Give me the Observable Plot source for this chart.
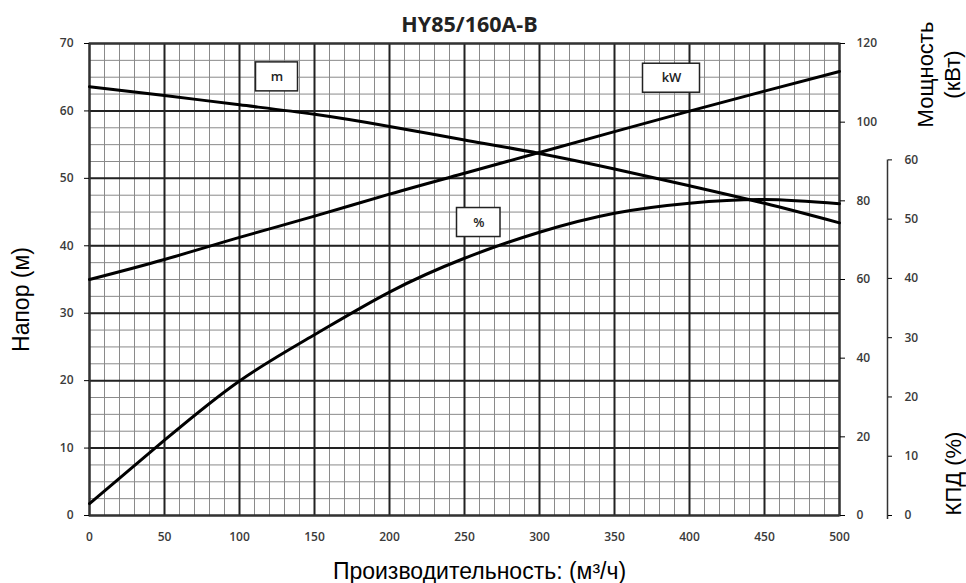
<!DOCTYPE html>
<html><head><meta charset="utf-8">
<script src="https://cdn.jsdelivr.net/npm/d3@7"></script>
<script src="https://cdn.jsdelivr.net/npm/@observablehq/plot@0.6"></script>
<style>body{margin:0;background:#fff}</style>
</head><body><div id="chart"></div>
<script>
// Data
const flow  = [0, 50, 100, 150, 200, 250, 300, 350, 400, 450, 500];           // м³/ч
const head  = [63.6, 62.3, 60.9, 59.5, 57.7, 55.7, 53.7, 51.4, 48.9, 46.3, 43.4]; // м
const power = [60.0, 65.1, 70.7, 76.1, 81.7, 87.0, 92.3, 97.6, 102.8, 107.9, 112.9]; // кВт
const eff   = [2.0, 12.7, 22.7, 30.5, 37.7, 43.4, 47.8, 51.0, 52.7, 53.3, 52.6]; // %

const xTicks = [0, 50, 100, 150, 200, 250, 300, 350, 400, 450, 500];
const headTicks = [0, 10, 20, 30, 40, 50, 60, 70];
const powerTicks = [0, 20, 40, 60, 80, 100, 120];
const effTicks = [0, 10, 20, 30, 40, 50, 60];

const labels = ["m", "kW", "%"];
const labelX = [125, 388, 259.5];
const labelY = [65.05, 64.85, 43.45];
const labelHalfW = [14, 19, 14.5];

// scale conversions to the head axis
const PK = 70 / 120;        // power -> head units
const EK = 52.74 / 60;      // efficiency -> head units

const rows = flow.map((q, i) => ({q, head: head[i], power: power[i] * PK, eff: eff[i] * EK}));
const boxes = labels.map((t, i) => ({t, x: labelX[i], y: labelY[i], w: labelHalfW[i]}));

const minorX = d3.range(0, 501, 10);
const majorX = d3.range(0, 501, 50);
const minorY = d3.range(0, 70.01, 2.5);
const majorY = d3.range(0, 70.01, 10);

const tickFont = {fontSize: 12, fontWeight: 600, fill: "#3a3a3a", fontFamily: "'Open Sans', sans-serif"};
const titleFont = "'Liberation Sans', Arial, sans-serif";

const chart = Plot.plot({
  width: 966, height: 583,
  marginTop: 43, marginBottom: 68, marginLeft: 89, marginRight: 127,
  style: {background: "#fff", fontFamily: "'Open Sans', sans-serif"},
  x: {domain: [0, 500]},
  y: {domain: [0, 70]},
  marks: [
    Plot.ruleX(minorX, {stroke: "#8a8a8a", strokeWidth: 1}),
    Plot.ruleY(minorY, {stroke: "#8a8a8a", strokeWidth: 1}),
    Plot.ruleX(majorX, {stroke: "#222", strokeWidth: 2}),
    Plot.ruleY(majorY, {stroke: "#222", strokeWidth: 2}),
    Plot.frame({stroke: "#333", strokeWidth: 2}),
    Plot.axisX({ticks: xTicks, tickSize: 0, tickPadding: 17, label: null, ...tickFont}),
    Plot.axisY({ticks: headTicks, anchor: "left", tickSize: 5, tickPadding: 11, label: null, ...tickFont}),
    Plot.axisY({ticks: powerTicks.map(p => p * PK), tickFormat: d => Math.round(d / PK), anchor: "right",
      tickSize: 5, tickPadding: 12, label: null, ...tickFont}),
    Plot.ruleX([500], {y1: -0.6, y2: 60 * EK, dx: 48, stroke: "#333", strokeWidth: 1.5}),
    Plot.axisY({ticks: effTicks.map(e => e * EK), tickFormat: d => Math.round(d / EK), anchor: "right",
      dx: 48, tickSize: 4, tickPadding: 13, label: null, ...tickFont}),
    Plot.line(rows, {x: "q", y: "head", curve: "natural", stroke: "#000", strokeWidth: 3}),
    Plot.line(rows, {x: "q", y: "power", curve: "natural", stroke: "#000", strokeWidth: 3}),
    Plot.line(rows, {x: "q", y: "eff", curve: "natural", stroke: "#000", strokeWidth: 3}),
    Plot.rect(boxes, {x1: d => d.x - d.w, x2: d => d.x + d.w, y1: d => d.y - 2.15, y2: d => d.y + 2.15,
      fill: "#fff", stroke: "#222", strokeWidth: 1.5}),
    Plot.text(boxes, {x: "x", y: "y", text: "t", fontSize: 13, fontWeight: 600, fill: "#222"}),
    Plot.text(["HY85/160A-B"], {frameAnchor: "top", lineAnchor: "middle", dx: 5, dy: -18, fontSize: 21.5,
      fontWeight: "bold", fill: "#222", fontFamily: "'Open Sans', sans-serif"}),
    Plot.text(["Производительность: (м³/ч)"], {frameAnchor: "bottom", lineAnchor: "middle", dx: 15, dy: 56,
      fontSize: 23, fill: "#000", fontFamily: titleFont}),
    Plot.text(["Напор (м)"], {frameAnchor: "left", textAnchor: "middle", lineAnchor: "middle", dx: -68, dy: 20, rotate: -90,
      fontSize: 23, fill: "#000", fontFamily: titleFont}),
    Plot.text(["Мощность\n(кВт)"], {frameAnchor: "top-right", textAnchor: "middle", lineAnchor: "middle", dx: 98, dy: 31, rotate: -90,
      fontSize: 22, fill: "#000", fontFamily: titleFont, lineHeight: 1.25}),
    Plot.text(["КПД (%)"], {frameAnchor: "bottom-right", textAnchor: "middle", lineAnchor: "middle", dx: 114, dy: -42, rotate: -90,
      fontSize: 22, fill: "#000", fontFamily: titleFont})
  ]
});
document.getElementById("chart").append(chart);
</script>
</body></html>
